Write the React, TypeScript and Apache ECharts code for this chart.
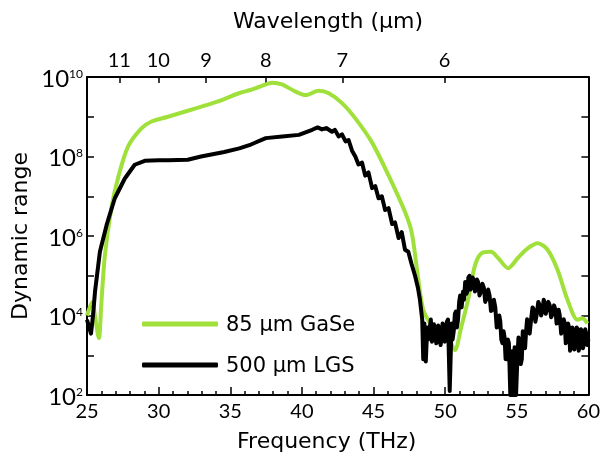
import React, { useEffect, useRef } from 'react';
import * as echarts from 'echarts';

// Frequency (THz) and dynamic range values
const gaseFreq = [
  25.0, 25.05, 25.37, 25.55, 25.83, 26.0, 26.25, 26.7, 27.17, 27.87, 28.8, 29.5, 30.65, 32.27, 34.1,
  35.6, 36.4, 37.0, 37.94, 38.6, 39.56, 40.26, 41.18, 41.88, 42.8, 43.73, 44.88, 46.04, 47.2, 47.67,
  48.1, 48.47, 49.05, 49.5, 50.0, 50.4, 50.67, 51.13, 51.6, 52.06, 52.5, 53.2, 53.7, 54.4, 55.07,
  55.76, 56.46, 57.15, 57.85, 58.54, 59.24, 59.58, 59.93,
];
const gaseValue = [
  1.0e4, 1.15e4, 2.2e4, 1.0e4, 2.7e3, 2.0e4, 3.3e5, 5.0e6, 2.9e7, 1.8e8, 5.1e8, 7.6e8, 1.0e9, 1.5e9, 2.4e9,
  3.9e9, 4.7e9, 5.6e9, 7.2e9, 6.5e9, 4.3e9, 3.5e9, 4.5e9, 3.9e9, 2.2e9, 9.1e8, 2.3e8, 3.4e7, 4.0e6, 1.2e6,
  9.5e4, 1.4e4, 5.8e3, 4.4e3, 3.2e3, 2.0e3, 1.35e3, 5.2e3, 2.5e4, 1.7e5, 3.6e5, 4.0e5, 2.8e5, 1.55e5, 2.8e5,
  4.9e5, 6.6e5, 4.5e5, 1.4e5, 2.5e4, 7.8e3, 8.5e3, 6.3e3,
];

const lgsFreq = [
  25.0, 25.15, 25.28, 25.42, 25.56, 25.9, 26.37, 26.94, 27.64, 28.33, 29.03, 30.0, 30.65, 32.03, 32.96,
  34.58, 35.63, 36.44, 37.48, 38.63, 39.79, 40.72, 41.1, 41.4, 41.7, 42.1, 42.3, 42.57, 42.8, 43.05,
  43.26, 43.5, 43.73, 43.95, 44.2, 44.42, 44.65, 44.9, 45.12, 45.35, 45.58, 45.81, 46.05, 46.3, 46.5,
  46.75, 46.97, 47.2, 47.43, 47.65, 47.9, 48.1, 48.24, 48.4, 48.47, 48.55, 48.65, 48.75, 48.82, 48.9,
  49.0, 49.08, 49.15, 49.22, 49.3, 49.38, 49.45, 49.52, 49.6, 49.68, 49.75, 49.82, 49.9, 49.98, 50.05,
  50.12, 50.2, 50.32, 50.45, 50.52, 50.6, 50.68, 50.75, 50.82, 50.9, 50.98, 51.05, 51.15, 51.25, 51.32,
  51.4, 51.48, 51.55, 51.62, 51.7, 51.78, 51.85, 51.92, 52.0, 52.08, 52.15, 52.22, 52.3, 52.4, 52.5,
  52.6, 52.7, 52.8, 52.9, 53.0, 53.1, 53.2, 53.3, 53.4, 53.5, 53.6, 53.7, 53.78, 53.85, 53.92,
  54.0, 54.08, 54.15, 54.22, 54.3, 54.38, 54.45, 54.55, 54.65, 54.75, 54.85, 54.95, 55.05, 55.12, 55.2,
  55.28, 55.35, 55.42, 55.5, 55.58, 55.65, 55.72, 55.8, 55.9, 56.0, 56.1, 56.2, 56.3, 56.4, 56.5,
  56.6, 56.7, 56.8, 56.88, 56.95, 57.02, 57.1, 57.2, 57.3, 57.4, 57.5, 57.6, 57.7, 57.78, 57.85,
  57.92, 58.0, 58.1, 58.2, 58.28, 58.35, 58.42, 58.5, 58.58, 58.65, 58.72, 58.8, 58.88, 58.95, 59.02,
  59.1, 59.18, 59.25, 59.32, 59.4, 59.48, 59.55, 59.62, 59.7, 59.78, 59.85, 59.92, 60.0,
];
const lgsValue = [
  7.8e3, 5.0e3, 3.5e3, 1.0e4, 4.0e4, 4.0e5, 1.9e6, 8.9e6, 2.8e7, 6.2e7, 7.8e7, 8.1e7, 8.1e7, 8.3e7, 1.0e8,
  1.3e8, 1.6e8, 2.0e8, 2.9e8, 3.2e8, 3.5e8, 4.7e8, 5.4e8, 4.8e8, 5.2e8, 4.2e8, 4.7e8, 3.2e8, 3.6e8, 2.4e8,
  2.6e8, 1.4e8, 1.0e8, 6.3e7, 7.0e7, 3.3e7, 4.0e7, 1.6e7, 1.8e7, 8.9e6, 1.0e7, 4.5e6, 5.0e6, 2.0e6, 2.2e6,
  8.9e5, 1.25e6, 4.5e5, 4.0e5, 2.0e5, 1.0e5, 5.0e4, 2.5e4, 7.9e3, 7.9e2, 6.3e3, 7.0e2, 5.0e3, 2.5e3, 4.0e3,
  7.9e3, 2.2e3, 2.5e3, 6.0e3, 5.0e3, 2.0e3, 2.2e3, 5.6e3, 4.5e3, 1.8e3, 2.5e3, 6.3e3, 5.6e3, 2.2e3, 2.8e3,
  7.0e3, 7.9e3, 1.26e2, 6.3e3, 2.5e3, 4.0e3, 1.1e4, 1.26e4, 5.0e3, 7.9e3, 2.2e4, 3.2e4, 1.6e4, 4.0e4, 2.5e4,
  7.0e4, 3.5e4, 4.0e4, 9.0e4, 1.0e5, 4.5e4, 5.6e4, 9.0e4, 7.9e4, 4.0e4, 5.0e4, 8.0e4, 7.0e4, 3.2e4, 4.0e4,
  6.3e4, 5.0e4, 2.2e4, 2.8e4, 4.5e4, 3.2e4, 1.3e4, 1.4e4, 2.5e4, 1.6e4, 5.0e3, 5.6e3, 1.0e4, 7.0e3, 2.5e3,
  2.0e3, 4.0e3, 2.8e3, 8.0e2, 7.9e2, 2.5e3, 2.0e3, 1.0e2, 1.26e3, 1.0e2, 1.6e3, 1.0e2, 1.0e3, 2.8e3, 2.5e3,
  6.0e2, 7.9e2, 4.0e3, 3.2e3, 1.5e3, 4.0e3, 8.0e3, 7.0e3, 3.5e3, 7.9e3, 1.6e4, 1.4e4, 7.0e3, 1.1e4, 2.2e4,
  1.8e4, 1.0e4, 1.4e4, 2.5e4, 2.0e4, 1.1e4, 1.4e4, 2.2e4, 1.8e4, 9.0e3, 1.1e4, 1.8e4, 1.4e4, 6.3e3, 8.9e3,
  1.4e4, 1.0e4, 3.5e3, 4.5e3, 8.0e3, 6.3e3, 2.0e3, 2.5e3, 6.3e3, 5.0e3, 1.3e3, 1.6e3, 5.0e3, 4.0e3, 1.4e3,
  2.0e3, 5.0e3, 4.5e3, 1.3e3, 1.6e3, 4.5e3, 4.0e3, 1.5e3, 2.0e3, 4.5e3, 3.5e3, 1.8e3, 2.5e3,
];

// Top axis: wavelength tick labels (μm); placed at frequency = c / λ
const wavelengthTicks = [11, 10, 9, 8, 7, 6];
const C_THZ_UM = 299.792458;

const seriesNames = ['85 μm GaSe', '500 μm LGS'];
const seriesColors = ['#9fe03a', '#000000'];

const NUM_FONT = 'Lato';
const TITLE_FONT = 'DejaVu Sans';

export default function App() {
  const ref = useRef<HTMLDivElement>(null);
  useEffect(() => {
    const chart = echarts.init(ref.current!, null, { renderer: 'svg' });
    const gaseData = gaseFreq.map((f, i) => [f, gaseValue[i]]);
    const lgsData = lgsFreq.map((f, i) => [f, lgsValue[i]]);
    const wavelengthTickFreq = wavelengthTicks.map((w) => C_THZ_UM / w);
    const axisLine = { show: true, lineStyle: { color: '#000', width: 2 } };
    const yLabelFormatter = (v: number) => {
      const e = Math.round(Math.log10(v));
      if (e % 2 !== 0) return '';
      return '{b|10}{s|' + e + '}';
    };
    chart.setOption({
      animation: false,
      textStyle: { fontFamily: NUM_FONT, color: '#000' },
      grid: { left: 87, top: 77, width: 504, height: 318 },
      legend: {
        show: true,
        orient: 'vertical',
        left: 142,
        top: 312,
        padding: 0,
        itemWidth: 76,
        itemHeight: 5,
        itemGap: 17,
        icon: 'roundRect',
        data: seriesNames,
        textStyle: { fontFamily: TITLE_FONT, fontSize: 21, color: '#000', lineHeight: 24, padding: [0, 0, 0, 3] },
      },
      xAxis: [
        {
          type: 'value',
          position: 'bottom',
          min: 25,
          max: 60,
          interval: 5,
          name: 'Frequency (THz)',
          nameLocation: 'middle',
          nameGap: 34,
          nameTextStyle: { fontFamily: TITLE_FONT, fontSize: 22, color: '#000', padding: [0, 22, 0, 0] },
          axisLine,
          axisTick: { show: true, inside: true, length: 8, lineStyle: { color: '#000', width: 1.5 } },
          minorTick: { show: true, splitNumber: 5, length: 4, lineStyle: { color: '#000', width: 1.5 } },
          axisLabel: { fontFamily: NUM_FONT, fontSize: 20, color: '#000', margin: 5 },
          splitLine: { show: false },
        },
        {
          type: 'value',
          position: 'top',
          min: 25,
          max: 60,
          axisLine,
          axisTick: {
            show: true,
            inside: true,
            length: 6,
            customValues: wavelengthTickFreq,
            lineStyle: { color: '#000', width: 1.5 },
          },
          axisLabel: {
            show: true,
            customValues: wavelengthTickFreq,
            fontFamily: NUM_FONT,
            fontSize: 20,
            color: '#000',
            margin: 8,
            formatter: (v: number) => {
              let best = 0;
              for (let i = 1; i < wavelengthTickFreq.length; i++) {
                if (Math.abs(wavelengthTickFreq[i] - v) < Math.abs(wavelengthTickFreq[best] - v)) best = i;
              }
              return String(wavelengthTicks[best]);
            },
          },
          splitLine: { show: false },
        },
      ],
      yAxis: [
        {
          type: 'log',
          logBase: 10,
          min: 100,
          max: 1e10,
          interval: 1,
          position: 'left',
          name: 'Dynamic range',
          nameLocation: 'middle',
          nameGap: 48,
          nameTextStyle: { fontFamily: TITLE_FONT, fontSize: 22, color: '#000' },
          axisLine,
          axisTick: { show: true, inside: true, length: 7, lineStyle: { color: '#000', width: 1.5 } },
          minorTick: { show: false },
          axisLabel: {
            fontFamily: NUM_FONT,
            margin: 4,
            formatter: yLabelFormatter,
            rich: {
              b: { fontFamily: NUM_FONT, fontSize: 24, color: '#000', lineHeight: 24, verticalAlign: 'bottom' },
              s: { fontFamily: NUM_FONT, fontSize: 12, color: '#000', lineHeight: 24, verticalAlign: 'top', padding: [2, 0, 0, 0] },
            },
          },
          splitLine: { show: false },
        },
        {
          type: 'log',
          logBase: 10,
          min: 100,
          max: 1e10,
          interval: 1,
          position: 'right',
          axisLine,
          axisTick: { show: true, inside: true, length: 7, lineStyle: { color: '#000', width: 1.5 } },
          axisLabel: { show: false },
          splitLine: { show: false },
        },
      ],
      series: [
        {
          name: seriesNames[0],
          type: 'line',
          xAxisIndex: 0,
          yAxisIndex: 0,
          data: gaseData,
          showSymbol: false,
          smooth: 0.3,
          color: seriesColors[0],
          lineStyle: { color: seriesColors[0], width: 4 },
          itemStyle: { color: seriesColors[0] },
          z: 2,
        },
        {
          name: seriesNames[1],
          type: 'line',
          xAxisIndex: 0,
          yAxisIndex: 0,
          data: lgsData,
          showSymbol: false,
          color: seriesColors[1],
          lineStyle: { color: seriesColors[1], width: 4, join: 'round' },
          itemStyle: { color: seriesColors[1] },
          z: 3,
        },
      ],
      graphic: [
        {
          type: 'text',
          x: 328,
          y: 20,
          style: {
            text: 'Wavelength (μm)',
            font: '22px "DejaVu Sans"',
            fill: '#000',
            align: 'center',
            verticalAlign: 'middle',
          },
        },
      ],
    });
    return () => chart.dispose();
  }, []);
  return <div ref={ref} style={{ position: 'fixed', left: 0, top: 0, width: 603, height: 457 }} />;
}
